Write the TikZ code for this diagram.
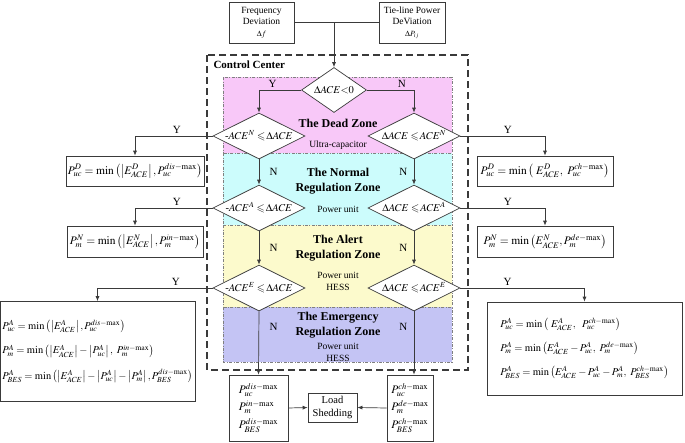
\documentclass[tikz,border=0pt]{standalone}
\usepackage{amsmath,amssymb}
\usepackage{mathptmx}
\usepackage[no-math]{fontspec}
\setmainfont{Liberation Serif}
\usepackage{tikz}
\usetikzlibrary{arrows.meta,positioning,shapes.geometric,calc}
\definecolor{deadpink}{HTML}{F8C8F8}
\definecolor{normcyan}{HTML}{CCFCFC}
\definecolor{alertyellow}{HTML}{FCFACC}
\definecolor{emergblue}{HTML}{C4C4F4}
\definecolor{linegray}{HTML}{3A3A3A}
\tikzset{
  block/.style={draw=linegray,line width=0.7pt,fill=white,align=center,
    inner sep=2pt,font=\fontsize{9.5}{11.5}\selectfont},
  eqbox/.style={block,font=\fontsize{11.5}{13}\selectfont},
  bigeq/.style={block,align=left,font=\fontsize{10.5}{12.5}\selectfont},
  decision/.style={diamond,draw=linegray,line width=0.7pt,fill=white,inner sep=0pt,
    font=\fontsize{10.5}{12.5}\selectfont},
  zone/.style={draw=gray,line width=0.5pt,
    dash pattern=on 3pt off 1.5pt on 0.8pt off 1.5pt},
  zonetitle/.style={font=\fontsize{12}{15}\selectfont\bfseries,align=center},
  zonenote/.style={font=\fontsize{9.5}{12}\selectfont,align=center},
  yn/.style={font=\fontsize{11}{13}\selectfont},
  flow/.style={-{Latex[length=5pt,width=4pt]},line width=0.7pt,draw=linegray}
}
\newcommand{\dtxt}[1]{\makebox[0pt]{$#1$}}

\begin{document}
\begin{tikzpicture}[x=1pt,y=-1pt]
  \useasboundingbox (0,0) rectangle (685,442);
  % Zones
  \filldraw[zone,fill=deadpink] (223,77) rectangle (452,153);
  \filldraw[zone,fill=normcyan] (223,153) rectangle (452,225);
  \filldraw[zone,fill=alertyellow] (223,225) rectangle (452,307);
  \filldraw[zone,fill=emergblue] (223,307) rectangle (452,362);
  % Control center
  \draw[linegray,line width=1.2pt,dash pattern=on 7pt off 4pt] (207,55) rectangle (468,370);
  \node[font=\fontsize{11}{13}\selectfont\bfseries,anchor=west] (cc) at (210,65) {Control Center};
  % Zone texts
  \node[zonetitle] (tdead) at (338,123) {The Dead Zone};
  \node[zonenote] (ndead) at (338,145) {Ultra-capacitor};
  \node[zonetitle] (tnorm) at (338,181) {The Normal\\Regulation Zone};
  \node[zonenote] (nnorm) at (338,209) {Power unit};
  \node[zonetitle] (talert) at (338,248) {The Alert\\Regulation Zone};
  \node[zonenote] (nalert) at (338,281) {Power unit\\HESS};
  \node[zonetitle] (temerg) at (338,325) {The Emergency\\Regulation Zone};
  \node[zonenote] (nemerg) at (338,352) {Power unit\\HESS};
  % Inputs
  \node[block,minimum width=65pt,minimum height=41pt] (freq) at (261.5,22.5)
    {Frequency\\Deviation\\{\footnotesize$\Delta f$}};
  \node[block,minimum width=66pt,minimum height=41pt] (tie) at (412,22.5)
    {Tie-line Power\\DeViation\\{\footnotesize$\Delta P_{ij}$}};
  \coordinate (join) at (334,22.5);
  % Decisions
  \node[decision,minimum width=65pt,minimum height=45pt] (d0) at (334,90) {\dtxt{\Delta ACE{<}0}};
  \foreach \r/\y/\s in {1/136/N, 2/208/A, 3/288/E} {
    \node[decision,minimum width=92pt,minimum height=46pt] (dL\r) at (259,\y)
      {\dtxt{\text{-}ACE^{\s}\leqslant\!\Delta ACE}};
    \node[decision,minimum width=92pt,minimum height=46pt] (dR\r) at (414,\y)
      {\dtxt{\Delta ACE\leqslant\! ACE^{\s}}};
  }
  % Outputs left
  \node[eqbox,minimum width=136pt,minimum height=30pt] (bL1) at (135,171)
    {$P_{uc}^{D}=\min\left(\left|E_{ACE}^{D}\right|,P_{uc}^{dis-\max}\right)$};
  \node[eqbox,minimum width=136pt,minimum height=31pt] (bL2) at (135,241.5)
    {$P_{m}^{N}=\min\left(\left|E_{ACE}^{N}\right|,P_{m}^{in-\max}\right)$};
  \node[bigeq,minimum width=195pt,minimum height=100pt] (bL3) at (97.5,351.5)
    {$P_{uc}^{A}=\min\left(\left|E_{ACE}^{A}\right|,P_{uc}^{dis-\max}\right)$\\[11pt]
     $P_{m}^{A}=\min\left(\left|E_{ACE}^{A}\right|-\left|P_{uc}^{A}\right|,\ P_{m}^{in-\max}\right)$\\[11pt]
     $P_{BES}^{A}=\min\left(\left|E_{ACE}^{A}\right|-\left|P_{uc}^{A}\right|-\left|P_{m}^{A}\right|,P_{BES}^{dis-\max}\right)$};
  % Outputs right
  \node[eqbox,minimum width=136pt,minimum height=30pt] (bR1) at (545,171)
    {$P_{uc}^{D}=\min\left(\ E_{ACE}^{D},\ P_{uc}^{ch-\max}\right)$};
  \node[eqbox,minimum width=136pt,minimum height=31pt] (bR2) at (545,241.5)
    {$P_{m}^{N}=\min\left(E_{ACE}^{N},P_{m}^{de-\max}\right)$};
  \node[bigeq,minimum width=195pt,minimum height=93pt] (bR3) at (584.5,348.5)
    {$P_{uc}^{A}=\min\left(\ E_{ACE}^{A},\ \ P_{uc}^{ch-\max}\right)$\\[10pt]
     $P_{m}^{A}=\min\left(E_{ACE}^{A}-P_{uc}^{A},\ P_{m}^{de-\max}\right)$\\[10pt]
     $P_{BES}^{A}=\min\left(E_{ACE}^{A}-P_{uc}^{A}-P_{m}^{A},\ P_{BES}^{ch-\max}\right)$};
  % Limits and load shedding
  \node[eqbox,align=left,minimum width=59pt,minimum height=66pt] (bBL) at (258.5,408)
    {$P_{uc}^{dis-\max}$\\[4pt]$P_{m}^{in-\max}$\\[4pt]$P_{BES}^{dis-\max}$};
  \node[eqbox,align=left,minimum width=46pt,minimum height=66pt] (bBR) at (410,408)
    {$P_{uc}^{ch-\max}$\\[4pt]$P_{m}^{de-\max}$\\[4pt]$P_{BES}^{ch-\max}$};
  \node[block,minimum width=49pt,minimum height=29pt,font=\fontsize{10.5}{12.5}\selectfont]
    (shed) at (332.5,407.5) {Load\\Shedding};
  % Connectors
  \draw[linegray,line width=0.7pt] (freq.east |- join) -- (tie.west |- join);
  \draw[flow] (join) -- (d0.north);
  \draw[flow] (d0.west) -| node[yn,pos=0.34,above=-1pt] {Y} (dL1.north);
  \draw[flow] (d0.east) -| node[yn,pos=0.37,above=-1pt] {N} (dR1.north);
  \foreach \r/\s in {1/2, 2/3} {
    \draw[flow] (dL\r.south) -- node[yn,right=7pt] {N} (dL\s.north);
    \draw[flow] (dR\r.south) -- node[yn,left=3pt] {N} (dR\s.north);
  }
  \draw[flow] (dL1.west) -| node[yn,pos=0.23,above=-1pt] {Y} (bL1.north);
  \draw[flow] (dL2.west) -| node[yn,pos=0.23,above=-1pt] {Y} (bL2.north);
  \draw[flow] (dL3.west) -| node[yn,pos=0.16,above=-1pt] {Y} (bL3.north);
  \draw[flow] (dR1.east) -| node[yn,pos=0.28,above=-1pt] {Y} (bR1.north);
  \draw[flow] (dR2.east) -| node[yn,pos=0.28,above=-1pt] {Y} (bR2.north);
  \draw[flow] (dR3.east) -| node[yn,pos=0.19,above=-1pt] {Y} (bR3.north);
  \draw[flow] (dL3.south) -- node[yn,pos=0.25,right=7pt] {N} (bBL.north);
  \draw[flow] (dR3.south) -- node[yn,pos=0.25,left=3pt] {N} (dR3.south |- bBR.north);
  \draw[flow] (bBL.east) -- (shed.west);
  \draw[flow] (bBR.west) -- (shed.east);
\end{tikzpicture}
\end{document}
